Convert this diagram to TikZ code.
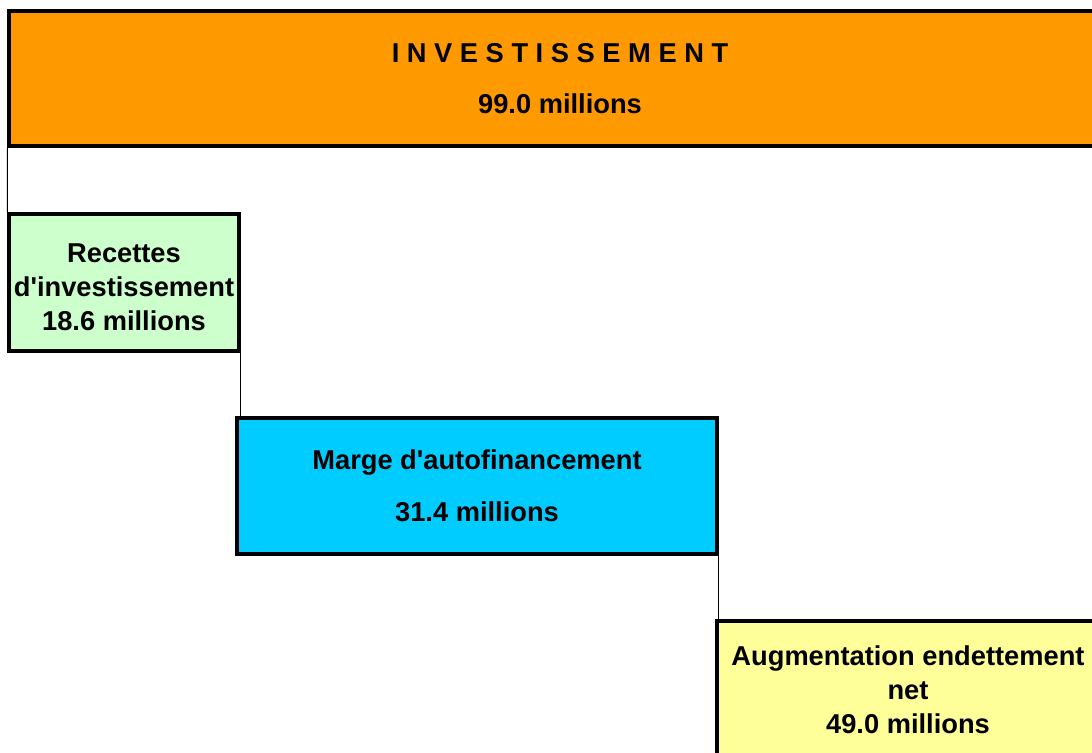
\documentclass[tikz,border=0pt]{standalone}
\usepackage{fontspec}
\setmainfont{Liberation Sans}
\usepackage{xcolor}
\definecolor{invorange}{HTML}{FF9900}
\definecolor{recgreen}{HTML}{CCFFCC}
\definecolor{margeblue}{HTML}{00CCFF}
\definecolor{detteyellow}{HTML}{FFFF99}

\begin{document}
\begin{tikzpicture}[font=\fontsize{19.4}{24.2}\selectfont\bfseries,
    box/.style={draw, line width=2.4pt, fill=#1, align=center, inner sep=0pt},
    conn/.style={draw, line width=0.7pt}]

  \useasboundingbox (0,0) rectangle (27.3,18.825);

  %% Total investment
  \node[box=invorange, minimum width=27.55cm, minimum height=3.375cm]
    (inv) at (14.0,16.8625) {I N V E S T I S S E M E N T\\[12.5pt]99.0 millions};

  %% Financing steps
  \node[box=recgreen, minimum width=5.75cm, minimum height=3.425cm]
    (rec) at (3.1,11.7625)
    {\raisebox{-5.25pt}[\height][\depth]{\begin{tabular}{@{}c@{}}Recettes\\d\textquotesingle investissement\\18.6 millions\end{tabular}}};
  \node[box=margeblue, minimum width=12.0cm, minimum height=3.4cm]
    (marge) at (11.925,6.675) {Marge d\textquotesingle autofinancement\\[12.5pt]31.4 millions};
  \node[box=detteyellow, minimum width=9.55cm, minimum height=3.425cm]
    (dette) at (22.7,1.5875) {Augmentation endettement\\net\\49.0 millions};

  %% Step connectors
  \draw[conn] (inv.south west) -- (rec.north west);
  \draw[conn] (rec.south east) -- (rec.south east |- marge.north);
  \draw[conn] (marge.south east) -- (marge.south east |- dette.north);

\end{tikzpicture}
\end{document}
